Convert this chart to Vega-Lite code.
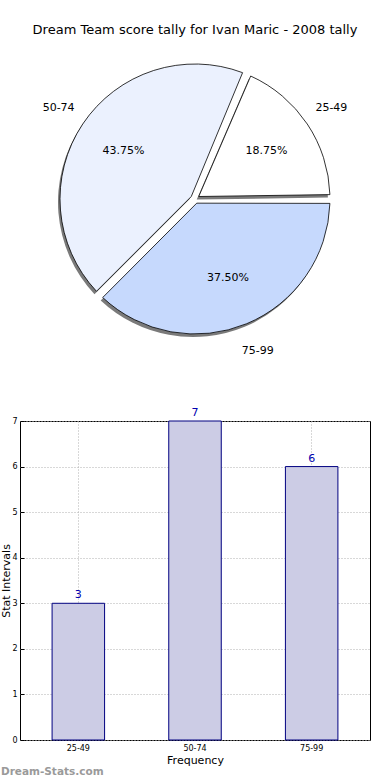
{
  "$schema": "https://vega.github.io/schema/vega-lite/v6.json",
  "padding": {"left": 0, "top": 24, "right": 0, "bottom": 0},
  "background": "white",
  "config": {"font": "DejaVu Sans", "view": {"stroke": null}},
  "datasets": {
    "tally": [
      {"range": "25-49", "count": 3},
      {"range": "50-74", "count": 7},
      {"range": "75-99", "count": 6}
    ]
  },
  "spacing": 50,
  "vconcat": [
    {
      "width": 350,
      "height": 304,
      "data": {"name": "tally"},
      "title": {"text": "Dream Team score tally for Ivan Maric - 2008 tally", "font": "DejaVu Sans", "fontSize": 13, "fontWeight": "normal", "color": "#000000", "anchor": "middle", "offset": 10},
      "transform": [
        {"joinaggregate": [{"op": "sum", "field": "count", "as": "total"}]},
        {"calculate": "datum.count / datum.total", "as": "share"}
      ],
      "encoding": {
        "theta": {"field": "count", "type": "quantitative", "stack": true, "scale": {"range": [1.5708, 7.854]}},
        "order": {"field": "range", "type": "ordinal", "sort": "descending"}
      },
      "layer": [
        {
          "mark": {"type": "arc", "radius": 135, "innerRadius": 4.5, "padAngle": 0.065, "fill": "#7a7a7a", "xOffset": -2, "yOffset": 3}
        },
        {
          "mark": {"type": "arc", "radius": 135, "innerRadius": 4.5, "padAngle": 0.065, "stroke": "#000000", "strokeWidth": 0.8},
          "encoding": {
            "color": {"field": "range", "type": "nominal", "legend": null, "scale": {"domain": ["25-49", "50-74", "75-99"], "range": ["#ffffff", "#ebf1fe", "#c6d9fd"]}}
          }
        },
        {
          "mark": {"type": "text", "radius": 86, "fontSize": 11, "color": "#000000"},
          "encoding": {"text": {"field": "share", "type": "quantitative", "format": ".2%"}}
        },
        {
          "mark": {"type": "text", "radius": 164, "fontSize": 11, "color": "#000000"},
          "encoding": {"text": {"field": "range", "type": "nominal"}}
        }
      ]
    },
    {
      "width": 350,
      "height": 319,
      "data": {"name": "tally"},
      "title": {"text": "Dream-Stats.com", "orient": "bottom", "anchor": "start", "frame": "bounds", "font": "DejaVu Sans", "fontSize": 10.5, "fontWeight": "bold", "color": "#9a9a9a", "offset": 2},
      "encoding": {
        "x": {"field": "range", "type": "nominal", "scale": {"paddingInner": 0, "paddingOuter": 0},
          "axis": {"title": "Frequency", "titleFontSize": 11, "titleFontWeight": "normal", "titleColor": "#000000", "titlePadding": 2, "labelFontSize": 8, "labelColor": "#000000", "labelAngle": 0, "labelPadding": 8, "ticks": true, "tickSize": -4, "tickColor": "#000000", "domain": false, "grid": true, "gridDash": [1, 2], "gridColor": "#b0b0b0", "bandPosition": 0.5}},
        "y": {"field": "count", "type": "quantitative", "scale": {"domain": [0, 7], "nice": false},
          "axis": {"title": "Stat Intervals", "titleFontSize": 11, "titleFontWeight": "normal", "titleColor": "#000000", "titlePadding": 0, "labelFontSize": 8, "labelColor": "#000000", "labelPadding": 7, "values": [0, 1, 2, 3, 4, 5, 6, 7], "ticks": true, "tickSize": -4, "tickColor": "#000000", "domain": false, "grid": true, "gridDash": [1, 2], "gridColor": "#b0b0b0"}}
      },
      "layer": [
        {
          "mark": {"type": "bar", "fill": "#cccce5", "stroke": "#000080", "strokeWidth": 1, "width": {"band": 0.45}}
        },
        {
          "mark": {"type": "text", "dy": -8, "fontSize": 11, "color": "#0000b0"},
          "encoding": {"text": {"field": "count", "type": "quantitative"}}
        }
      ],
      "view": {"stroke": "#000000", "strokeWidth": 1}
    }
  ]
}
